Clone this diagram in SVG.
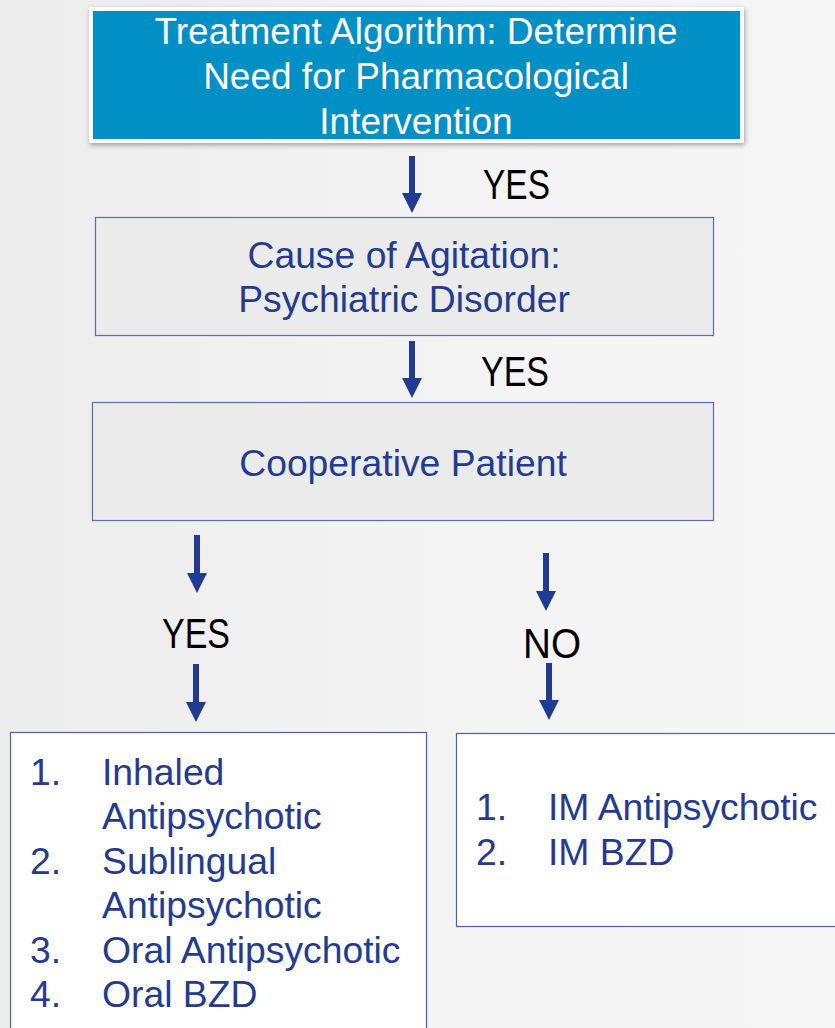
<svg xmlns="http://www.w3.org/2000/svg" width="835" height="1028" viewBox="0 0 835 1028">
  <defs>
    <linearGradient id="bg" x1="0" y1="0" x2="1" y2="0">
      <stop offset="0" stop-color="#ececec"/>
      <stop offset="0.5" stop-color="#f3f3f3"/>
      <stop offset="1" stop-color="#f6f6f6"/>
    </linearGradient>
    <filter id="shadow" x="-5%" y="-10%" width="110%" height="130%">
      <feDropShadow dx="1" dy="2" stdDeviation="2.5" flood-color="#000" flood-opacity="0.35"/>
    </filter>
  </defs>
  <style>
    .box { fill: #ebebeb; stroke: #5a6db3; stroke-width: 1.2; }
    .list { fill: #ffffff; stroke: #4a5fae; stroke-width: 1.2; }
    .t { font-family: "Liberation Sans", Arial, sans-serif; font-size: 37.3px; fill: #243b91; }
    .w { font-family: "Liberation Sans", Arial, sans-serif; font-size: 37px; fill: #ffffff; text-anchor: middle; }
    .c { text-anchor: middle; }
    .lbl { font-family: "Liberation Sans", Arial, sans-serif; font-size: 43px; fill: #000000; }
    .arr { fill: #213b92; }
  </style>
  <rect x="0" y="0" width="835" height="1028" fill="url(#bg)"/>

  <g id="node-top">
    <rect x="89" y="7" width="655" height="136" fill="#ffffff" filter="url(#shadow)"/>
    <rect x="93" y="11" width="647" height="128" fill="#0190c6"/>
    <text class="w" x="416" y="44">Treatment Algorithm: Determine</text>
    <text class="w" x="416" y="89">Need for Pharmacological</text>
    <text class="w" x="416" y="134">Intervention</text>
  </g>

  <g id="node-cause">
    <rect class="box" x="95.5" y="217.5" width="618" height="118"/>
    <text class="t c" x="404" y="268">Cause of Agitation:</text>
    <text class="t c" x="404" y="312">Psychiatric Disorder</text>
  </g>

  <g id="node-coop">
    <rect class="box" x="92.5" y="402.5" width="621" height="118"/>
    <text class="t c" x="403" y="476">Cooperative Patient</text>
  </g>

  <g id="node-yes-list">
    <rect class="list" x="10.5" y="732.5" width="416" height="310"/>
    <text class="t" x="30" y="785">1.</text>
    <text class="t" x="102" y="785">Inhaled</text>
    <text class="t" x="102" y="829">Antipsychotic</text>
    <text class="t" x="30" y="874">2.</text>
    <text class="t" x="102" y="874">Sublingual</text>
    <text class="t" x="102" y="918">Antipsychotic</text>
    <text class="t" x="30" y="963">3.</text>
    <text class="t" x="102" y="963">Oral Antipsychotic</text>
    <text class="t" x="30" y="1007">4.</text>
    <text class="t" x="102" y="1007">Oral BZD</text>
  </g>

  <g id="node-no-list">
    <rect class="list" x="456.5" y="733.5" width="400" height="193"/>
    <text class="t" x="476" y="820">1.</text>
    <text class="t" x="548" y="820">IM Antipsychotic</text>
    <text class="t" x="476" y="865">2.</text>
    <text class="t" x="548" y="865">IM BZD</text>
  </g>

  <g id="connectors">
    <polygon class="arr" points="409,156 415,156 415,193 422,193 412,213 402,193 409,193"/>
    <polygon class="arr" points="409,341 415,341 415,378 422,378 412,398 402,378 409,378"/>
    <polygon class="arr" points="194,535 200,535 200,573 207,573 197,593 187,573 194,573"/>
    <polygon class="arr" points="193,664 199,664 199,702 206,702 196,722 186,702 193,702"/>
    <polygon class="arr" points="543,553 549,553 549,591 556,591 546,611 536,591 543,591"/>
    <polygon class="arr" points="546,663 552,663 552,700 559,700 549,720 539,700 546,700"/>
    <text class="lbl" x="483" y="199" textLength="67" lengthAdjust="spacingAndGlyphs">YES</text>
    <text class="lbl" x="481" y="386" textLength="68" lengthAdjust="spacingAndGlyphs">YES</text>
    <text class="lbl" x="162" y="648" textLength="68" lengthAdjust="spacingAndGlyphs">YES</text>
    <text class="lbl" x="523" y="658" textLength="58" lengthAdjust="spacingAndGlyphs">NO</text>
  </g>
</svg>
